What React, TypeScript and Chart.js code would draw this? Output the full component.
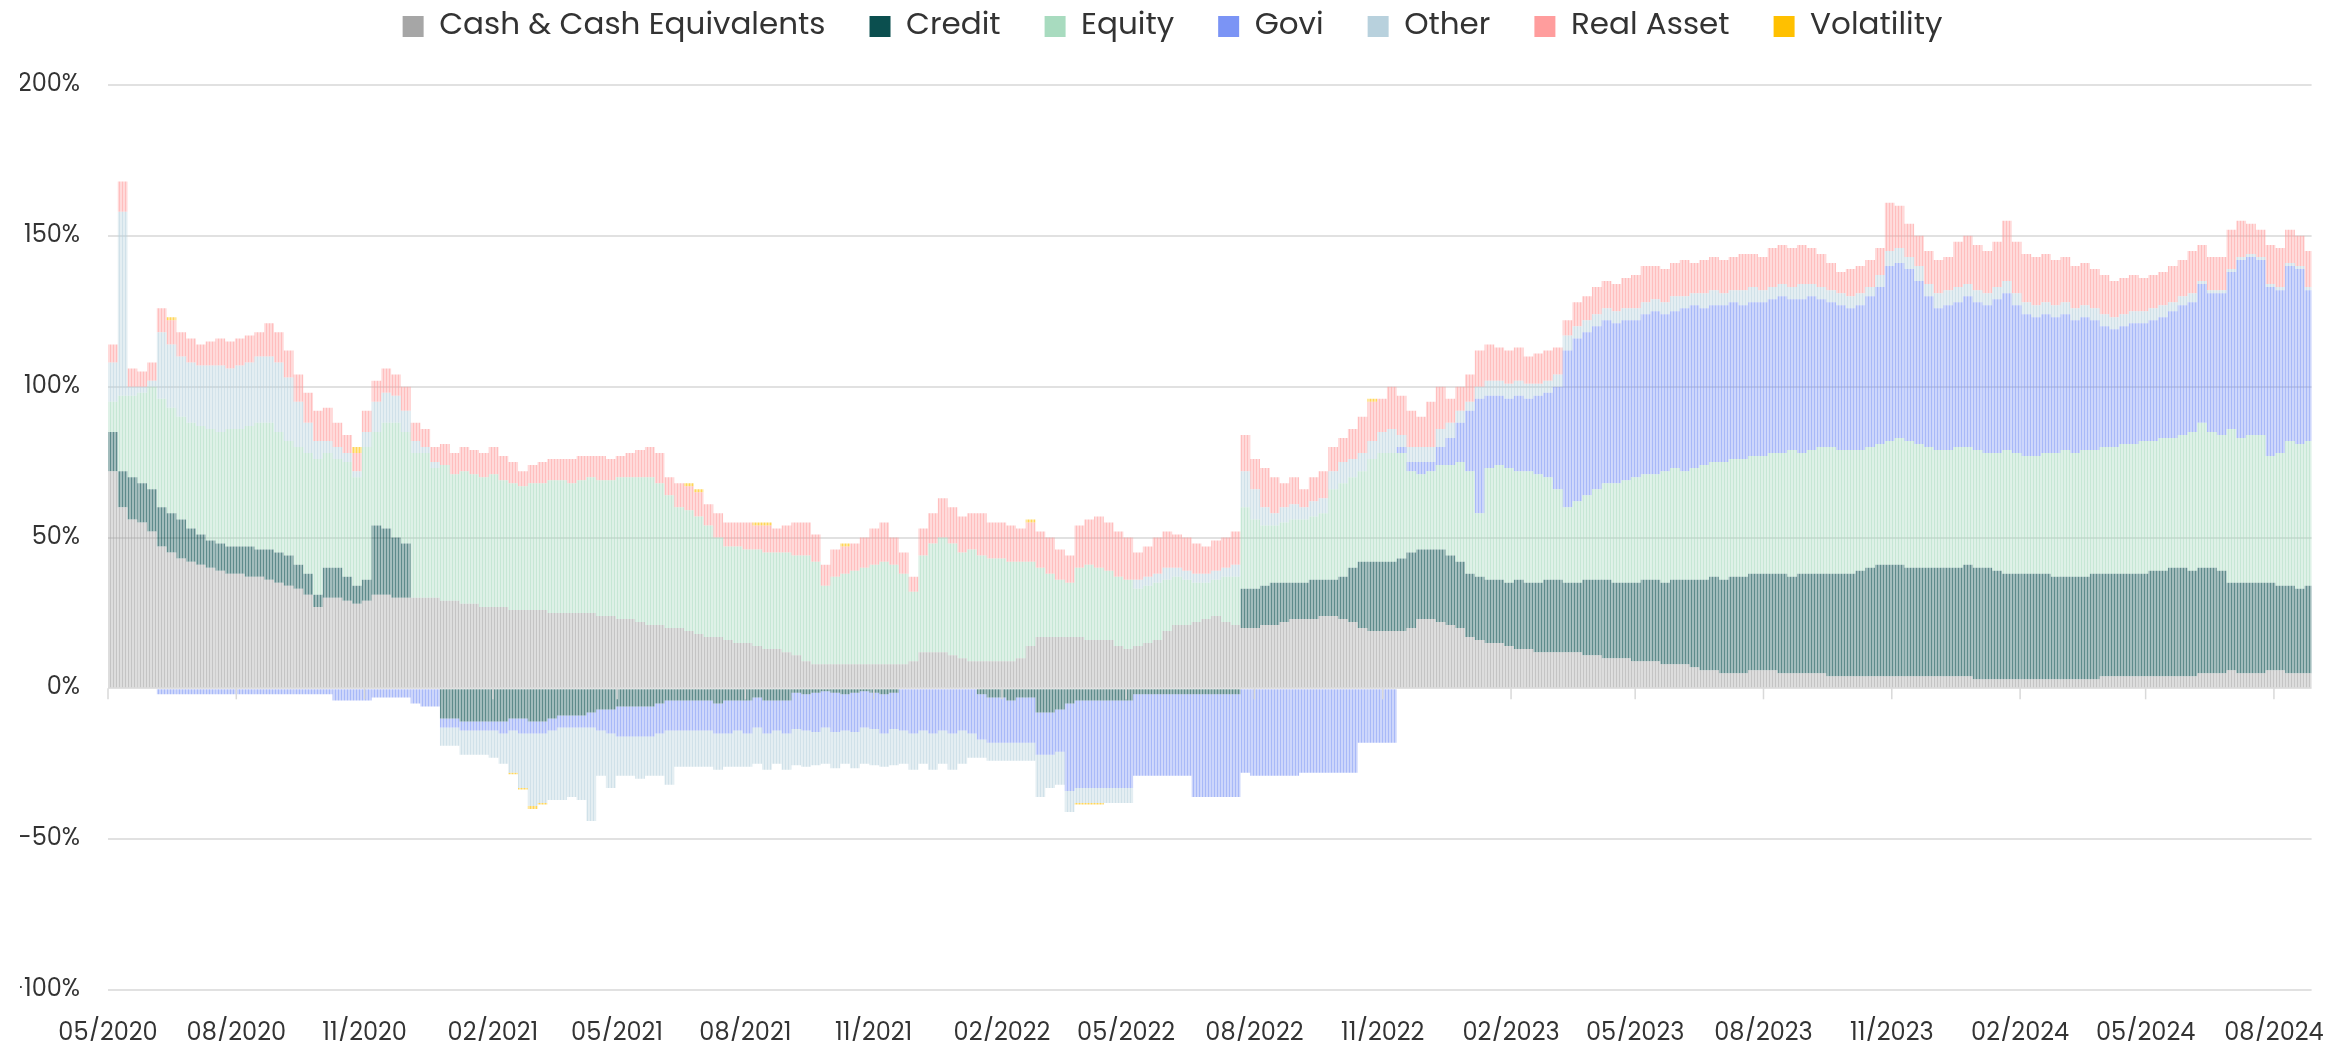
import React, { useEffect, useRef } from 'react';
import { Chart, registerables } from 'chart.js';

Chart.register(...registerables);

const START = Date.UTC(2020, 4, 1);
const DAY = 86400000;
const AXIS_END_DAY = 1580;
const FONT = 'Poppins, "Open Sans", sans-serif';

const seriesNames = ['Cash & Cash Equivalents', 'Credit', 'Equity', 'Govi', 'Other', 'Real Asset', 'Volatility'];
const seriesColors = ['#a6a6a6', '#0b4f4f', '#a8dbbf', '#7b94f5', '#b8d1dd', '#ff9d9d', '#ffc000'];

const tickLabels = ['05/2020', '08/2020', '11/2020', '02/2021', '05/2021', '08/2021', '11/2021', '02/2022', '05/2022',
  '08/2022', '11/2022', '02/2023', '05/2023', '08/2023', '11/2023', '02/2024', '05/2024', '08/2024'];

// weekly values (%), first week starting 2020-05-01
const cash = [
  72, 60, 56, 55, 52, 47, 45, 43, 42, 41,
  40, 39, 38, 38, 37, 37, 36, 35, 34, 33,
  31, 27, 30, 30, 29, 28, 29, 31, 31, 30,
  30, 30, 30, 30, 29, 29, 28, 28, 27, 27,
  27, 26, 26, 26, 26, 25, 25, 25, 25, 25,
  24, 24, 23, 23, 22, 21, 21, 20, 20, 19,
  18, 17, 17, 16, 15, 15, 14, 13, 13, 12,
  11, 9, 8, 8, 8, 8, 8, 8, 8, 8,
  8, 8, 9, 12, 12, 12, 11, 10, 9, 9,
  9, 9, 9, 10, 14, 17, 17, 17, 17, 17,
  16, 16, 16, 14, 13, 14, 15, 16, 19, 21,
  21, 22, 23, 24, 22, 21, 20, 20, 21, 21,
  22, 23, 23, 23, 24, 24, 23, 22, 20, 19,
  19, 19, 19, 20, 23, 23, 22, 21, 20, 17,
  16, 15, 15, 14, 13, 13, 12, 12, 12, 12,
  12, 11, 11, 10, 10, 10, 9, 9, 9, 8,
  8, 8, 7, 6, 6, 5, 5, 5, 6, 6,
  6, 5, 5, 5, 5, 5, 4, 4, 4, 4,
  4, 4, 4, 4, 4, 4, 4, 4, 4, 4,
  4, 3, 3, 3, 3, 3, 3, 3, 3, 3,
  3, 3, 3, 3, 4, 4, 4, 4, 4, 4,
  4, 4, 4, 4, 5, 5, 5, 6, 5, 5,
  5, 6, 6, 5, 5, 5,
];

const credit = [
  13, 12, 14, 13, 14, 13, 13, 13, 11, 10,
  9, 9, 9, 9, 10, 9, 10, 10, 10, 8,
  7, 4, 10, 10, 8, 6, 7, 23, 22, 20,
  18, 0, 0, 0, -10, -10, -11, -11, -11, -11,
  -11, -10, -10, -11, -11, -10, -9, -9, -9, -8,
  -7, -7, -6, -6, -6, -6, -5, -4, -4, -4,
  -4, -4, -5, -4, -4, -4, -3, -4, -4, -4,
  -1.5, -2, -1.5, -1, -1.5, -2, -1.5, -1, -1.5, -2,
  -1.5, 0, 0, 0, 0, 0, 0, 0, 0, -2,
  -3, -3, -4, -3, -3, -8, -8, -7, -5, -4,
  -4, -4, -4, -4, -4, -2, -2, -2, -2, -2,
  -2, -2, -2, -2, -2, -2, 13, 13, 13, 14,
  13, 12, 12, 13, 12, 12, 14, 18, 22, 23,
  23, 23, 24, 25, 23, 23, 24, 23, 22, 21,
  21, 21, 21, 21, 23, 22, 23, 24, 24, 23,
  23, 25, 25, 26, 25, 25, 26, 27, 27, 27,
  28, 28, 29, 30, 31, 31, 32, 32, 32, 32,
  32, 33, 32, 33, 33, 33, 34, 34, 34, 35,
  36, 37, 37, 37, 36, 36, 36, 36, 36, 36,
  37, 37, 37, 36, 35, 35, 35, 35, 35, 34,
  34, 34, 34, 35, 34, 34, 34, 34, 34, 35,
  35, 36, 36, 35, 35, 35, 34, 29, 30, 30,
  30, 29, 28, 29, 28, 29,
];

const equity = [
  10, 25, 27, 30, 34, 36, 35, 34, 35, 36,
  37, 37, 39, 39, 40, 42, 42, 40, 38, 39,
  40, 45, 38, 36, 38, 36, 44, 31, 35, 38,
  37, 48, 48, 43, 45, 42, 44, 43, 43, 44,
  42, 42, 41, 42, 42, 44, 44, 43, 44, 45,
  45, 45, 47, 47, 48, 49, 47, 44, 40, 40,
  39, 37, 33, 31, 32, 31, 32, 32, 32, 33,
  33, 35, 34, 26, 29, 30, 31, 32, 33, 34,
  33, 30, 23, 32, 36, 38, 37, 35, 37, 35,
  34, 34, 33, 32, 28, 23, 21, 19, 18, 23,
  25, 24, 23, 23, 23, 19, 19, 19, 17, 16,
  15, 13, 12, 12, 15, 16, 27, 23, 20, 19,
  20, 21, 21, 21, 22, 30, 31, 30, 30, 34,
  36, 36, 35, 27, 25, 26, 28, 30, 33, 34,
  21, 37, 38, 38, 36, 37, 36, 34, 30, 25,
  27, 28, 30, 32, 33, 34, 35, 35, 35, 37,
  37, 36, 37, 38, 38, 39, 39, 39, 39, 39,
  40, 40, 42, 40, 41, 42, 42, 41, 41, 40,
  40, 40, 41, 42, 42, 41, 40, 39, 39, 40,
  39, 39, 38, 39, 41, 40, 39, 39, 40, 41,
  42, 41, 42, 41, 42, 42, 43, 43, 44, 43,
  44, 43, 44, 46, 48, 45, 45, 51, 48, 49,
  49, 42, 44, 48, 48, 48,
];

const govi = [
  0, 0, 0, 0, 0, -2, -2, -2, -2, -2,
  -2, -2, -2, -2, -2, -2, -2, -2, -2, -2,
  -2, -2, -2, -4, -4, -4, -4, -3, -3, -3,
  -3, -5, -6, -6, -3, -3, -3, -3, -3, -3,
  -4, -4, -5, -4, -4, -4, -4, -4, -4, -5,
  -7, -8, -10, -10, -10, -10, -10, -10, -10, -10,
  -10, -10, -10, -11, -10, -11, -10, -11, -10, -11,
  -12, -12, -13, -12, -13, -12, -13, -12, -12, -13,
  -12, -14, -15, -14, -15, -14, -15, -14, -15, -15,
  -15, -15, -14, -15, -15, -14, -14, -14, -29, -29,
  -29, -29, -29, -29, -29, -27, -27, -27, -27, -27,
  -27, -34, -34, -34, -34, -34, -28, -29, -29, -29,
  -29, -29, -28, -28, -28, -28, -28, -28, -18, -18,
  -18, -18, 2, 3, 4, 3, 6, 9, 13, 20,
  38, 24, 23, 23, 25, 24, 26, 28, 34, 52,
  54, 54, 54, 54, 53, 53, 52, 53, 54, 52,
  52, 54, 54, 52, 52, 52, 52, 51, 51, 51,
  51, 52, 50, 51, 51, 49, 48, 48, 47, 48,
  50, 52, 58, 58, 57, 54, 50, 47, 48, 48,
  50, 49, 49, 51, 52, 49, 47, 46, 46, 45,
  45, 44, 44, 43, 40, 39, 39, 40, 39, 40,
  40, 42, 43, 43, 46, 46, 47, 52, 59, 59,
  58, 56, 54, 58, 58, 50,
];

const other = [
  13, 61, 3, 2, 2, 22, 21, 20, 20, 20,
  21, 22, 20, 21, 21, 22, 22, 23, 21, 15,
  10, 6, 4, 4, 3, 2, 5, 10, 10, 9,
  7, 4, 2, 2, -6, -6, -8, -8, -8, -9,
  -10, -14, -18, -24, -23, -23, -24, -23, -24, -31,
  -15, -18, -13, -13, -14, -13, -14, -18, -12, -12,
  -12, -12, -12, -11, -12, -11, -12, -12, -11, -12,
  -12, -12, -11, -12, -12, -11, -12, -12, -12, -11,
  -12, -11, -12, -11, -12, -11, -12, -11, -8, -6,
  -6, -6, -6, -6, -6, -14, -11, -11, -7, -5,
  -5, -5, -5, -5, -5, 3, 3, 3, 4, 3,
  3, 3, 3, 3, 3, 4, 12, 10, 6, 4,
  5, 5, 4, 5, 5, 6, 7, 6, 6, 6,
  7, 8, 4, 5, 5, 5, 6, 5, 4, 3,
  4, 5, 5, 5, 5, 5, 4, 4, 4, 5,
  4, 4, 4, 4, 4, 4, 4, 4, 4, 4,
  5, 4, 4, 5, 5, 4, 4, 5, 5, 4,
  4, 4, 4, 5, 4, 4, 4, 4, 4, 4,
  3, 4, 5, 5, 4, 5, 4, 5, 5, 5,
  4, 4, 4, 4, 4, 4, 4, 4, 4, 4,
  4, 4, 4, 4, 4, 4, 4, 4, 4, 4,
  4, 3, 3, 3, 1, 1, 1, 1, 1, 1,
  1, 1, 1, 1, 1, 1,
];

const realAsset = [
  6, 10, 6, 5, 6, 8, 8, 8, 8, 7,
  8, 9, 9, 9, 9, 8, 11, 10, 9, 9,
  10, 10, 11, 8, 6, 6, 7, 7, 8, 7,
  8, 6, 6, 5, 7, 7, 8, 8, 8, 9,
  8, 7, 5, 6, 7, 7, 7, 8, 8, 7,
  8, 7, 7, 8, 9, 10, 10, 6, 8, 8,
  8, 7, 8, 8, 8, 9, 8, 9, 8, 9,
  11, 11, 9, 7, 9, 9, 9, 10, 12, 13,
  9, 7, 5, 9, 10, 13, 12, 12, 12, 14,
  12, 12, 12, 11, 13, 12, 12, 10, 9, 14,
  15, 17, 16, 15, 14, 9, 10, 12, 12, 11,
  11, 10, 9, 10, 10, 11, 12, 10, 13, 12,
  8, 9, 6, 8, 9, 8, 8, 10, 12, 13,
  11, 14, 13, 12, 10, 15, 14, 8, 8, 9,
  12, 12, 11, 11, 11, 9, 10, 10, 9, 5,
  8, 8, 9, 9, 9, 10, 11, 12, 11, 11,
  11, 12, 10, 11, 11, 11, 11, 12, 11, 11,
  13, 13, 13, 13, 12, 11, 9, 7, 9, 9,
  9, 9, 16, 14, 11, 10, 11, 11, 11, 15,
  16, 15, 14, 15, 20, 17, 16, 16, 16, 15,
  15, 14, 14, 13, 13, 12, 12, 12, 11, 11,
  11, 12, 12, 14, 12, 11, 11, 13, 12, 10,
  9, 13, 13, 11, 10, 12,
];

const volatility = [
  0, 0, 0, 0, 0, 0, 1, 0, 0, 0,
  0, 0, 0, 0, 0, 0, 0, 0, 0, 0,
  0, 0, 0, 0, 0, 2, 0, 0, 0, 0,
  0, 0, 0, 0, 0, 0, 0, 0, 0, 0,
  0, -0.5, -0.5, -1, -0.5, 0, 0, 0, 0, 0,
  0, 0, 0, 0, 0, 0, 0, 0, 0, 1,
  1, 0, 0, 0, 0, 0, 1, 1, 0, 0,
  0, 0, 0, 0, 0, 1, 0, 0, 0, 0,
  0, 0, 0, 0, 0, 0, 0, 0, 0, 0,
  0, 0, 0, 0, 1, 0, 0, 0, 0, -0.5,
  -0.5, -0.5, 0, 0, 0, 0, 0, 0, 0, 0,
  0, 0, 0, 0, 0, 0, 0, 0, 0, 0,
  0, 0, 0, 0, 0, 0, 0, 0, 0, 1,
  0, 0, 0, 0, 0, 0, 0, 0, 0, 0,
  0, 0, 0, 0, 0, 0, 0, 0, 0, 0,
  0, 0, 0, 0, 0, 0, 0, 0, 0, 0,
  0, 0, 0, 0, 0, 0, 0, 0, 0, 0,
  0, 0, 0, 0, 0, 0, 0, 0, 0, 0,
  0, 0, 0, 0, 0, 0, 0, 0, 0, 0,
  0, 0, 0, 0, 0, 0, 0, 0, 0, 0,
  0, 0, 0, 0, 0, 0, 0, 0, 0, 0,
  0, 0, 0, 0, 0, 0, 0, 0, 0, 0,
  0, 0, 0, 0, 0, 0,
];

const seriesValues = [cash, credit, equity, govi, other, realAsset, volatility];

const weekCenters = cash.map((_, i) => i * 7 + 3.5);
const tickDays = tickLabels.map((l) => {
  const [m, y] = l.split('/').map(Number);
  return Math.round((Date.UTC(y, m - 1, 1) - START) / DAY);
});

function hexToRgb(hex: string) {
  const n = parseInt(hex.slice(1), 16);
  return [(n >> 16) & 255, (n >> 8) & 255, n & 255];
}

function makeStripePattern(ctx: CanvasRenderingContext2D, hex: string) {
  const [r, g, b] = hexToRgb(hex);
  const c = document.createElement('canvas');
  c.width = 3;
  c.height = 1;
  const p = c.getContext('2d')!;
  p.fillStyle = `rgba(${r},${g},${b},0.38)`;
  p.fillRect(0, 0, 2, 1);
  p.fillStyle = `rgba(${r},${g},${b},0.66)`;
  p.fillRect(2, 0, 1, 1);
  return ctx.createPattern(c, 'repeat');
}

const legendSpacer = {
  id: 'legendSpacer',
  beforeInit(chart: any) {
    const orig = chart.legend.fit;
    chart.legend.fit = function fit() {
      orig.call(this);
      this.height += 33;
    };
  },
};

const zeroTicks = {
  id: 'zeroTicks',
  afterDatasetsDraw(chart: any) {
    const { ctx, scales } = chart;
    const x = scales.x;
    const y = scales.y;
    const y0 = y.getPixelForValue(0);
    ctx.save();
    ctx.strokeStyle = '#d9d9d9';
    ctx.lineWidth = 1.5;
    tickDays.forEach((d) => {
      const px = x.getPixelForValue(d);
      ctx.beginPath();
      ctx.moveTo(px, y0);
      ctx.lineTo(px, y0 + 11);
      ctx.stroke();
    });
    ctx.restore();
  },
};

export default function App() {
  const canvasRef = useRef<HTMLCanvasElement | null>(null);

  useEffect(() => {
    const canvas = canvasRef.current;
    if (!canvas) return;
    const ctx = canvas.getContext('2d')!;

    const datasets = seriesNames.map((name, si) => ({
      label: name,
      data: seriesValues[si].map((v, i) => ({ x: weekCenters[i], y: v })),
      backgroundColor: makeStripePattern(ctx, seriesColors[si]) as any,
      borderWidth: 0,
      inflateAmount: 0,
      barPercentage: 1,
      categoryPercentage: 1,
    }));

    const labelByDay: Record<number, string> = {};
    tickDays.forEach((d, i) => { labelByDay[d] = tickLabels[i]; });

    const chart = new Chart(ctx, {
      type: 'bar',
      data: { datasets },
      plugins: [legendSpacer, zeroTicks],
      options: {
        animation: false,
        responsive: true,
        maintainAspectRatio: false,
        layout: { padding: { top: -33, right: 21, bottom: 0, left: 20 } },
        plugins: {
          tooltip: { enabled: false },
          legend: {
            position: 'top',
            align: 'center',
            labels: {
              boxWidth: 21,
              boxHeight: 21,
              padding: 44,
              color: '#333333',
              font: { family: FONT, size: 31 },
              generateLabels: (c: any) =>
                c.data.datasets.map((ds: any, i: number) => ({
                  text: ds.label,
                  fillStyle: seriesColors[i],
                  strokeStyle: seriesColors[i],
                  lineWidth: 0,
                  hidden: !c.isDatasetVisible(i),
                  datasetIndex: i,
                  fontColor: '#333333',
                })),
            },
          },
        },
        scales: {
          x: {
            type: 'linear',
            stacked: true,
            min: 0,
            max: AXIS_END_DAY,
            offset: false,
            grid: { display: false },
            border: { display: false },
            afterBuildTicks: (s: any) => {
              s.ticks = tickDays.map((v) => ({ value: v }));
            },
            afterFit: (s: any) => { s.height = 51; },
            ticks: {
              autoSkip: false,
              maxRotation: 0,
              padding: 22,
              color: '#333333',
              font: { family: FONT, size: 24 },
              callback: (v: any) => labelByDay[v as number] ?? '',
            },
          },
          y: {
            stacked: true,
            min: -100,
            max: 200,
            afterFit: (s: any) => { s.width = 88; },
            border: { display: false },
            grid: { color: '#e1e1e1', lineWidth: 2, drawTicks: false },
            ticks: {
              stepSize: 50,
              padding: 28,
              color: '#333333',
              font: { family: FONT, size: 24 },
              callback: (v: any) => `${v}%`,
            },
          },
        },
      } as any,
    });

    return () => chart.destroy();
  }, []);

  return (
    <div style={{ position: 'fixed', left: 0, top: 0, width: 2346, height: 1041, background: '#ffffff' }}>
      <canvas ref={canvasRef} />
    </div>
  );
}
